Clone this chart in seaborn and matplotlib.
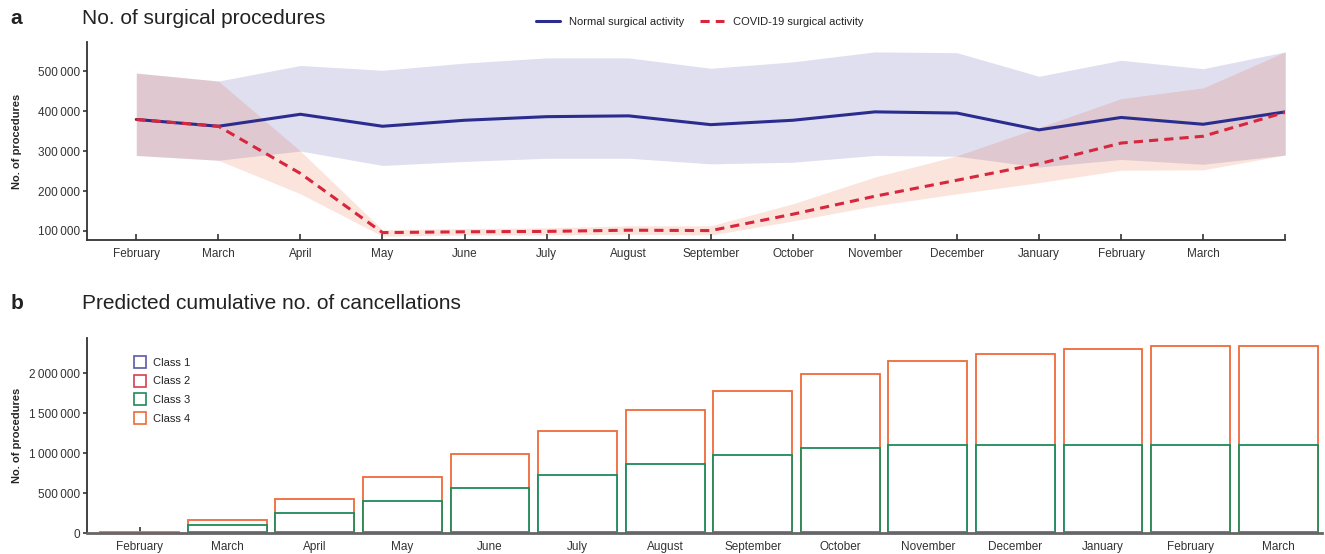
import numpy as np
import pandas as pd
import matplotlib
matplotlib.use('Agg')
import matplotlib.pyplot as plt
import matplotlib.ticker as mtick
from matplotlib.patches import Patch
import seaborn as sns

# ---- data: panel a (monthly surgical procedures) ----
months_a = ['February', 'March', 'April', 'May', 'June', 'July', 'August',
            'September', 'October', 'November', 'December', 'January',
            'February', 'March', '']
normal_mid = [379000, 362000, 392000, 362000, 377000, 386000, 388000,
              366000, 377000, 398000, 395000, 353000, 384000, 367000, 398000]
normal_hi = [495000, 475000, 514000, 502000, 520000, 533000, 533000,
             507000, 523000, 548000, 546000, 487000, 527000, 506000, 548000]
normal_lo = [289000, 277000, 300000, 264000, 274000, 282000, 282000,
             268000, 272000, 289000, 287000, 260000, 279000, 267000, 290000]
covid_mid = [379000, 362000, 244000, 96000, 98000, 99000, 102000,
             101000, 142000, 187000, 227000, 268000, 320000, 337000, 397000]
covid_hi = [495000, 475000, 300000, 103000, 106000, 108000, 113000,
            113000, 168000, 235000, 288000, 359000, 431000, 458000, 548000]
covid_lo = [289000, 277000, 193000, 87000, 90000, 90000, 92000,
            90000, 125000, 163000, 193000, 221000, 252000, 253000, 290000]

# ---- data: panel b (predicted cumulative cancellations) ----
months_b = ['February', 'March', 'April', 'May', 'June', 'July', 'August',
            'September', 'October', 'November', 'December', 'January',
            'February', 'March']
class1 = [0, 2000, 3000, 3000, 3000, 3000, 3000, 3000, 3000, 3000, 3000,
          3000, 3000, 3000]
class2 = [0, 6000, 8000, 9000, 9000, 9000, 9000, 9000, 9000, 9000, 9000,
          9000, 9000, 9000]
class3 = [0, 92000, 239000, 388000, 550000, 709000, 855000, 967000,
          1050000, 1084000, 1084000, 1084000, 1084000, 1084000]
class4 = [15000, 58000, 175000, 304000, 430000, 554000, 670000, 800000,
          925000, 1062000, 1146000, 1208000, 1241000, 1241000]
class_names = ['Class 1', 'Class 2', 'Class 3', 'Class 4']

navy = '#2b2d8e'
red = '#d7263d'
class_colors = ['#5a5aa8', '#d8404f', '#1f8a5a', '#f0693a']

sns.set_style('ticks')
plt.rcParams['font.family'] = ['Liberation Sans', 'DejaVu Sans']
plt.rcParams['axes.edgecolor'] = '#333333'
plt.rcParams['xtick.color'] = '#333333'
plt.rcParams['ytick.color'] = '#333333'
plt.rcParams['text.color'] = '#222222'

fig = plt.figure(figsize=(13.25, 5.54), dpi=100)
ax1 = fig.add_axes([0.0657, 0.5668, 0.9043, 0.3572])
ax2 = fig.add_axes([0.0657, 0.0379, 0.932, 0.352])

def thin_fmt(v, pos):
    return f'{int(round(v)):,}'.replace(',', '\u2009')

# ---- panel a ----
xa = np.arange(len(months_a))
ax1.fill_between(xa, normal_lo, normal_hi, color='#5f5fb4', alpha=0.2, lw=0)
ax1.fill_between(xa, covid_lo, covid_hi, color='#e44b16', alpha=0.15, lw=0)
sns.lineplot(x=xa, y=normal_mid, color=navy, linewidth=2.2,
             label='Normal surgical activity', ax=ax1)
sns.lineplot(x=xa, y=covid_mid, color=red, linewidth=2.2,
             linestyle=(0, (3, 2)), label='COVID-19 surgical activity', ax=ax1)

ax1.set_xlim(-0.6, 14)
ax1.set_ylim(77500, 572500)
ax1.set_xticks(xa)
ax1.set_xticklabels(months_a, fontsize=8.5)
ax1.set_yticks([100000, 200000, 300000, 400000, 500000])
ax1.yaxis.set_major_formatter(mtick.FuncFormatter(thin_fmt))
ax1.tick_params(axis='x', direction='in', length=4, width=1.2, pad=6)
ax1.tick_params(axis='y', direction='out', length=3, width=1.2, pad=2,
                labelsize=8.5)
ax1.set_ylabel('No. of procedures', fontsize=8, fontweight='bold')
ax1.yaxis.set_label_coords(-0.054, 0.5)
ax1.set_xlabel('')
sns.despine(ax=ax1)
for s in ['left', 'bottom']:
    ax1.spines[s].set_linewidth(1.3)
ax1.legend(loc='center', bbox_to_anchor=(0.528, 0.960),
           bbox_transform=fig.transFigure, ncol=2, frameon=False,
           fontsize=8, handlelength=2.2, columnspacing=1.4)

# ---- panel b ----
xb = np.arange(len(months_b))
stack = np.cumsum(np.array([class1, class2, class3, class4], dtype=float), axis=0)
for i in range(3, -1, -1):
    heights = np.where(stack[i] > 0, stack[i], np.nan)
    df = pd.DataFrame({'pos': xb, 'val': heights}).dropna()
    sns.barplot(data=df, x='pos', y='val', order=list(xb), color='white',
                edgecolor=class_colors[i], linewidth=1.3, width=0.9,
                saturation=1, ax=ax2)

ax2.set_xlim(-0.6, 13.5)
ax2.set_ylim(0, 2440000)
ax2.set_xticks(xb)
ax2.set_xticklabels(months_b, fontsize=8.5)
ax2.set_yticks([0, 500000, 1000000, 1500000, 2000000])
ax2.yaxis.set_major_formatter(mtick.FuncFormatter(thin_fmt))
ax2.tick_params(axis='x', direction='in', length=4, width=1.2, pad=6)
ax2.tick_params(axis='y', direction='out', length=3, width=1.2, pad=2,
                labelsize=8.5)
ax2.set_ylabel('No. of procedures', fontsize=8, fontweight='bold')
ax2.yaxis.set_label_coords(-0.0526, 0.5)
ax2.set_xlabel('')
sns.despine(ax=ax2)
ax2.spines['left'].set_linewidth(1.3)
ax2.spines['bottom'].set_linewidth(2)
ax2.spines['bottom'].set_color('#666666')

handles = [Patch(facecolor='white', edgecolor=c, linewidth=1.2)
           for c in class_colors]
ax2.legend(handles, class_names, loc='upper left', bbox_to_anchor=(0.03, 0.96),
           frameon=False, fontsize=8, handlelength=1.1, handleheight=1.3,
           labelspacing=0.6, handletextpad=0.6)

# panel letters and titles
fig.text(0.008, 0.967, 'a', fontsize=15, fontweight='bold', va='center')
fig.text(0.062, 0.967, 'No. of surgical procedures', fontsize=15, va='center')
fig.text(0.008, 0.453, 'b', fontsize=15, fontweight='bold', va='center')
fig.text(0.062, 0.453, 'Predicted cumulative no. of cancellations',
         fontsize=15, va='center')

fig.savefig('out.png', dpi=100)
